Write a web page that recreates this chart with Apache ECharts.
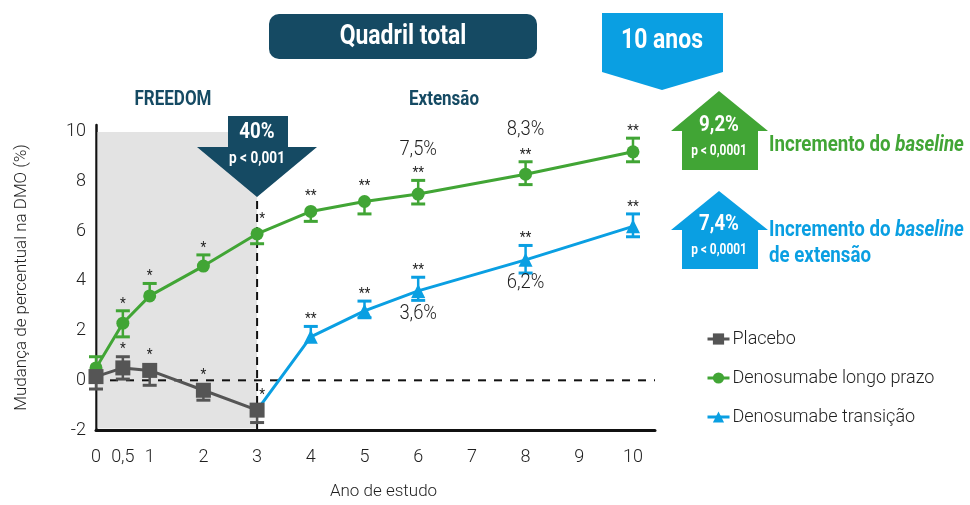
<!DOCTYPE html>
<html>
<head>
<meta charset="utf-8">
<script src="https://cdn.jsdelivr.net/npm/echarts@6/dist/echarts.min.js"></script>
<style>
  html, body { margin: 0; padding: 0; background: #ffffff; }
  #chart { width: 970px; height: 505px; }
</style>
</head>
<body>
<div id="chart"></div>
<script>
// Total hip BMD, % change from baseline, by study year
const placeboYears = [0, 0.5, 1, 2, 3];
const placeboValues = [0.15, 0.5, 0.4, -0.4, -1.2];
const placeboErrLow = [0.5, 0.45, 0.6, 0.4, 0.5];
const placeboErrHigh = [0, 0.45, 0, 0, 0];
const placeboStars = ['', '*', '*', '*', '*'];

const longYears = [0, 0.5, 1, 2, 3, 4, 5, 6, 8, 10];
const longValues = [0.5, 2.3, 3.4, 4.6, 5.9, 6.8, 7.2, 7.5, 8.3, 9.2];
const longErrLow = [0, 0.55, 0, 0, 0.4, 0.4, 0.5, 0.4, 0.42, 0.4];
const longErrHigh = [0.45, 0.5, 0.5, 0.45, 0, 0, 0, 0.55, 0.5, 0.55];
const longStars = ['', '*', '*', '*', '*', '**', '**', '**', '**', '**'];
const longNotes = ['', '', '', '', '', '', '', '7,5%', '8,3%', ''];

const crossYears = [3, 4, 5, 6, 8, 10];
const crossValues = [-1.2, 1.75, 2.8, 3.6, 4.85, 6.2];
const crossErrLow = [0, 0, 0.28, 0.38, 0.53, 0.42];
const crossErrHigh = [0, 0.42, 0.39, 0.55, 0.58, 0.5];
const crossStars = ['', '**', '**', '**', '**', '**'];
const crossNotes = ['', '', '', '3,6%', '6,2%', ''];

const freedomYears = [0, 3];
const xTicks = [0, 0.5, 1, 2, 3, 4, 5, 6, 7, 8, 9, 10];
const yTicks = [-2, 0, 2, 4, 6, 8, 10];

const X_MIN = 0, X_MAX = 10.41, Y_MIN = -2, Y_MAX = 10.28;

const FONT = "Roboto, 'Liberation Sans', sans-serif";
const SQUEEZE = 0.85;
const LIGHT = 300;
const TEAL = '#154a63';
const GREEN = '#41a535';
const BLUE = '#0a9fe2';
const GREY = '#555555';
const INK = '#1f1f1f';

const fmt = v => String(v).replace('.', ',');

// condensed text element anchored at (x, y)
function label(text, x, y, size, fill, opts) {
  opts = opts || {};
  return {
    type: 'text', x: x, y: y, scaleX: SQUEEZE, z: 11,
    style: Object.assign({
      text: text, x: 0, y: 0, align: opts.align || 'center', verticalAlign: 'middle',
      fontSize: size, fontWeight: opts.weight || 'bold', fontFamily: FONT, fill: fill
    }, opts.style || {})
  };
}

// error bars, significance stars and value notes for one series
function errorBars(name, xs, ys, lo, hi, stars, notes, notesAbove, color, z) {
  return {
    type: 'custom',
    name: name + ' err',
    silent: true,
    z: z,
    encode: { x: 0, y: 1 },
    data: xs.map((x, i) => [x, ys[i], lo[i], hi[i], i]),
    renderItem: function (params, api) {
      const x = api.value(0), y = api.value(1);
      const l = api.value(2), h = api.value(3), i = api.value(4);
      const p = api.coord([x, y]);
      const children = [];
      const cap = 7;
      let top = null;
      if (h > 0) {
        const ph = api.coord([x, y + h]);
        children.push({ type: 'line', shape: { x1: p[0], y1: p[1], x2: ph[0], y2: ph[1] }, style: { stroke: color, lineWidth: 2.5 } });
        children.push({ type: 'line', shape: { x1: p[0] - cap, y1: ph[1], x2: p[0] + cap, y2: ph[1] }, style: { stroke: color, lineWidth: 3 } });
        top = ph[1];
      }
      if (l > 0) {
        const pl = api.coord([x, y - l]);
        children.push({ type: 'line', shape: { x1: p[0], y1: p[1], x2: pl[0], y2: pl[1] }, style: { stroke: color, lineWidth: 2.5 } });
        children.push({ type: 'line', shape: { x1: p[0] - cap, y1: pl[1], x2: p[0] + cap, y2: pl[1] }, style: { stroke: color, lineWidth: 3 } });
      }
      const star = stars[i];
      if (star) {
        const sy = top !== null ? top - 11 : p[1] - 19;
        const sx = x === 3 ? p[0] + 5 : p[0];
        children.push({ type: 'text', x: sx, y: sy + 4, scaleX: 0.9,
          style: { text: star, x: 0, y: 0, align: 'center', verticalAlign: 'middle', fontSize: 15, fontFamily: FONT, fill: INK } });
      }
      const note = notes[i];
      if (note) {
        children.push({ type: 'text', x: p[0], y: notesAbove ? p[1] - 44 : p[1] + 23, scaleX: 0.92,
          style: { text: note, x: 0, y: 0, align: 'center', verticalAlign: 'middle', fontSize: 20, fontWeight: LIGHT, fontFamily: FONT, fill: INK } });
      }
      return { type: 'group', children: children };
    }
  };
}

const chart = echarts.init(document.getElementById('chart'), null, { renderer: 'canvas' });

const option = {
  backgroundColor: '#ffffff',
  animation: false,
  textStyle: { fontFamily: FONT },
  grid: { left: 96, right: 315, top: 125, bottom: 70 },
  legend: {
    data: ['Placebo', 'Denosumabe longo prazo', 'Denosumabe transição'],
    orient: 'vertical',
    left: 701,
    top: 325,
    itemWidth: 22,
    itemHeight: 14,
    itemGap: 21,
    lineStyle: { width: 3 },
    textStyle: { fontSize: 18, fontWeight: LIGHT, color: INK, fontFamily: FONT, padding: [0, 0, 0, -2] }
  },
  xAxis: {
    type: 'value',
    min: X_MIN,
    max: X_MAX,
    name: 'Ano de estudo',
    nameLocation: 'middle',
    nameGap: 53,
    nameTextStyle: { fontSize: 17, fontWeight: LIGHT, color: INK, fontFamily: FONT, padding: [0, 0, 0, 16] },
    axisLine: { onZero: false, lineStyle: { color: '#111', width: 3 } },
    axisTick: { show: false },
    splitLine: { show: false },
    axisLabel: { customValues: xTicks, formatter: fmt, fontSize: 18, fontWeight: LIGHT, color: INK, margin: 18, fontFamily: FONT }
  },
  yAxis: {
    type: 'value',
    min: Y_MIN,
    max: Y_MAX,
    name: 'Mudança de percentual na DMO (%)',
    nameLocation: 'middle',
    nameGap: 66,
    nameTextStyle: { fontSize: 17, fontWeight: LIGHT, color: INK, fontFamily: FONT },
    axisLine: { show: true, onZero: false, lineStyle: { color: '#111', width: 2.5 } },
    axisTick: { show: false },
    splitLine: { show: false },
    axisLabel: { customValues: yTicks, fontSize: 18, fontWeight: LIGHT, color: INK, margin: 10, fontFamily: FONT }
  },
  series: [
    {
      // FREEDOM period shading and reference lines
      type: 'custom',
      name: 'phases',
      silent: true,
      z: 1,
      encode: { x: [0, 1] },
      data: [freedomYears],
      renderItem: function (params, api) {
        const tl = api.coord([api.value(0), 10]);
        const br = api.coord([api.value(1), Y_MIN]);
        const za = api.coord([X_MIN, 0]);
        const zb = api.coord([X_MAX, 0]);
        const vt = api.coord([api.value(1), 7.45]);
        return {
          type: 'group',
          children: [
            { type: 'rect', shape: { x: tl[0] + 1.5, y: tl[1], width: br[0] - tl[0] - 1.5, height: br[1] - tl[1] - 1.5 }, style: { fill: '#e3e3e3' } },
            { type: 'line', shape: { x1: za[0] + 14, y1: za[1], x2: zb[0], y2: zb[1] }, style: { stroke: '#111', lineWidth: 2, lineDash: [8, 8] } },
            { type: 'line', shape: { x1: br[0], y1: br[1], x2: vt[0], y2: vt[1] }, style: { stroke: '#111', lineWidth: 2, lineDash: [8, 5] } }
          ]
        };
      }
    },
    errorBars('Denosumabe longo prazo', longYears, longValues, longErrLow, longErrHigh, longStars, longNotes, true, GREEN, 3),
    errorBars('Denosumabe transição', crossYears, crossValues, crossErrLow, crossErrHigh, crossStars, crossNotes, false, BLUE, 4),
    errorBars('Placebo', placeboYears, placeboValues, placeboErrLow, placeboErrHigh, placeboStars, [], true, GREY, 5),
    {
      type: 'line',
      name: 'Denosumabe longo prazo',
      z: 3,
      data: longYears.map((x, i) => [x, longValues[i]]),
      symbol: 'circle',
      symbolSize: 13,
      color: GREEN,
      lineStyle: { width: 3, color: GREEN },
      itemStyle: { color: GREEN }
    },
    {
      type: 'line',
      name: 'Denosumabe transição',
      z: 4,
      data: crossYears.map((x, i) => i === 0 ? { value: [x, crossValues[i]], symbol: 'none' } : [x, crossValues[i]]),
      symbol: 'triangle',
      symbolSize: 14,
      color: BLUE,
      lineStyle: { width: 3, color: BLUE },
      itemStyle: { color: BLUE }
    },
    {
      type: 'line',
      name: 'Placebo',
      z: 5,
      data: placeboYears.map((x, i) => [x, placeboValues[i]]),
      symbol: 'rect',
      symbolSize: 15,
      color: GREY,
      lineStyle: { width: 3, color: GREY },
      itemStyle: { color: GREY }
    }
  ],
  graphic: [
    // title box
    { type: 'rect', shape: { x: 269, y: 14, width: 268, height: 45, r: 10 }, style: { fill: TEAL }, z: 10 },
    label('Quadril total', 403, 37, 27, '#ffffff'),
    // 10-year banner
    { type: 'polygon', shape: { points: [[602, 13], [723, 13], [723, 72], [662, 90], [602, 72]] }, style: { fill: BLUE }, z: 10 },
    label('10 anos', 662, 41, 27, '#ffffff'),
    // phase headings
    label('FREEDOM', 173, 100, 20, TEAL),
    label('Extensão', 444, 100, 20, TEAL),
    // 40% reduction arrow
    { type: 'polygon', shape: { points: [[228, 116], [288, 116], [288, 147], [317, 147], [257, 197], [197, 147], [228, 147]] }, style: { fill: TEAL }, z: 10 },
    label('40%', 257, 132, 22, '#ffffff'),
    label('p < 0,001', 257, 159, 16, '#ffffff'),
    // baseline increment arrow
    { type: 'polygon', shape: { points: [[719, 91], [768, 131], [758, 131], [758, 170], [682, 170], [682, 131], [671, 131]] }, style: { fill: GREEN }, z: 10 },
    label('9,2%', 719, 125, 22, '#ffffff'),
    label('p < 0,0001', 719, 151, 14, '#ffffff'),
    label('{a|Incremento do }{i|baseline}', 769, 145, 22, GREEN, { align: 'left', style: {
      rich: {
        a: { fontSize: 22, fontWeight: 'bold', fontFamily: FONT, fill: GREEN },
        i: { fontSize: 22, fontWeight: 'bold', fontStyle: 'italic', fontFamily: FONT, fill: GREEN }
      } } }),
    // extension-baseline increment arrow
    { type: 'polygon', shape: { points: [[719, 191], [768, 230], [758, 230], [758, 269], [682, 269], [682, 230], [671, 230]] }, style: { fill: BLUE }, z: 10 },
    label('7,4%', 719, 224, 22, '#ffffff'),
    label('p < 0,0001', 719, 250, 14, '#ffffff'),
    label('{a|Incremento do }{i|baseline}', 769, 230, 22, BLUE, { align: 'left', style: {
      rich: {
        a: { fontSize: 22, fontWeight: 'bold', fontFamily: FONT, fill: BLUE },
        i: { fontSize: 22, fontWeight: 'bold', fontStyle: 'italic', fontFamily: FONT, fill: BLUE }
      } } }),
    label('de extensão', 769, 256, 22, BLUE, { align: 'left' })
  ]
};

chart.setOption(option);
</script>
</body>
</html>
